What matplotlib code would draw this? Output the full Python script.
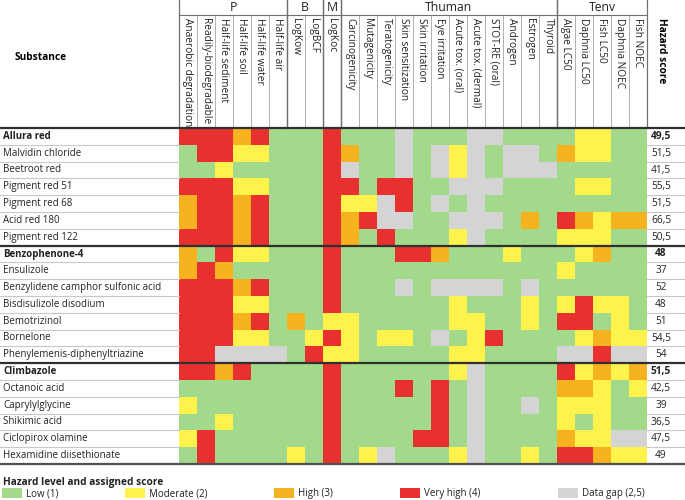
import matplotlib
matplotlib.use("Agg")
import matplotlib.pyplot as plt
import numpy as np
from matplotlib.colors import ListedColormap, BoundaryNorm
from matplotlib.patches import Rectangle

plt.rcParams["font.family"] = ["Open Sans", "DejaVu Sans"]

SUBSTANCES = [
    "Allura red", "Malvidin chloride", "Beetroot red", "Pigment red 51",
    "Pigment red 68", "Acid red 180", "Pigment red 122",
    "Benzophenone-4", "Ensulizole", "Benzylidene camphor sulfonic acid",
    "Bisdisulizole disodium", "Bemotrizinol", "Bornelone",
    "Phenylemenis-diphenyltriazine",
    "Climbazole", "Octanoic acid", "Caprylylglycine", "Shikimic acid",
    "Ciclopirox olamine", "Hexamidine diisethionate",
]
GROUP_HEADS = ["Allura red", "Benzophenone-4", "Climbazole"]

GROUPS = ["P", "B", "M", "Thuman", "Tenv"]
GROUP_SIZES = [6, 2, 1, 12, 5]
COLUMNS = [
    "Anaerobic degradation", "Readily-biodegradable", "Half-life sediment",
    "Half-life soil", "Half-life water", "Half-life air",
    "LogKow", "LogBCF",
    "LogKoc",
    "Carcinogenicity", "Mutagenicity", "Teratogenicity", "Skin sensitization",
    "Skin irritation", "Eye irritation", "Acute tox. (oral)",
    "Acute tox. (dermal)", "STOT-RE (oral)", "Androgen", "Estrogen", "Thyroid",
    "Algae LC50", "Daphnia LC50", "Fish LC50", "Daphnia NOEC", "Fish NOEC",
]

# G low, Y moderate, O high, R very high, X data gap
LEVELS = [
    "RRRORGGGRGGGX" + "GGGXXGGGGYYGG",
    "GRRYYGGGROGGX" + "GXYXGXXGOYYGG",
    "GGYGGGGGRXGGX" + "GXYXGXXXGGGGG",
    "RRRYYGGGRRGRR" + "GGXXXGGGGYYGG",
    "ORRORGGGRYYXR" + "GXGXGGGGGGGGG",
    "ORRORGGGRORXX" + "GGXXXGOGROYOO",
    "RRRORGGGROGRG" + "GGYXGGGGYYYGG",
    "OGRYYGGGRGGGR" + "ROGGGYGGGYOGG",
    "OROGGGGGRGGGG" + "GGGGGGGGYGGGG",
    "RRRORGGGRGGGX" + "GXXXXGXGGGGGG",
    "RRRYYGGGRGGGG" + "GGYGGGYGYRYYG",
    "RRRORGOGYYGGG" + "GGYYGGYGRRGYG",
    "RRRYYGGYRYGYY" + "GXGYRGGGGYOYY",
    "RRXXXXGRYYGGG" + "GGYYGGGGXXRXX",
    "RRORGGGGRGGGG" + "GGYXGGGGRYOYO",
    "GGGGGGGGRGGGR" + "GRGXGGGGOOYGY",
    "YGGGGGGGRGGGG" + "GRGXGGXGYYYGG",
    "GGYGGGGGRGGGG" + "GRGXGGGGYGYGG",
    "YRGGGGGGRGGGG" + "RRGXGGGGOYYXX",
    "GRGGGGYGRGYXG" + "GGYXGGYGRROYY",
]
SCORES = [49.5, 51.5, 41.5, 55.5, 51.5, 66.5, 50.5,
          48, 37, 52, 48, 51, 54.5, 54,
          51.5, 42.5, 39, 36.5, 47.5, 49]

LEVEL_CODES = ["G", "Y", "O", "R", "X"]
LEVEL_LABELS = ["Low (1)", "Moderate (2)", "High (3)", "Very high (4)", "Data gap (2,5)"]
LEVEL_COLORS = ["#a2d98b", "#fff24c", "#f7b21f", "#e8312f", "#d4d4d4"]

W, H = 685, 500
GRID_L, GRID_R, GRID_T, GRID_B = 179, 647, 128, 464
SCORE_X = 661
HEADER_Y = 15
FS = 7.3
FS_ROW = 7.0


def fmt_score(v):
    s = ("%.1f" % v).rstrip("0").rstrip(".")
    return s.replace(".", ",")


def main():
    fig = plt.figure(figsize=(W / 100, H / 100), dpi=100)

    # heatmap cells
    ax = fig.add_axes([GRID_L / W, 1 - GRID_B / H, (GRID_R - GRID_L) / W, (GRID_B - GRID_T) / H])
    grid = np.array([[LEVEL_CODES.index(c) for c in row] for row in LEVELS])
    cmap = ListedColormap(LEVEL_COLORS)
    norm = BoundaryNorm(np.arange(-0.5, len(LEVEL_CODES)), cmap.N)
    ax.pcolormesh(grid, cmap=cmap, norm=norm, edgecolors="none")
    ax.set_xlim(0, len(COLUMNS))
    ax.set_ylim(len(SUBSTANCES), 0)
    ax.axis("off")

    # overlay in pixel coords for text and rules
    ov = fig.add_axes([0, 0, 1, 1], zorder=5)
    ov.set_xlim(0, W)
    ov.set_ylim(H, 0)
    ov.axis("off")

    n = len(SUBSTANCES)
    rh = (GRID_B - GRID_T) / n
    cw = (GRID_R - GRID_L) / len(COLUMNS)

    # header
    ov.text(15, 58, "Substance", fontsize=FS, fontweight="bold", va="center", ha="left")
    ov.text(SCORE_X + 1, 18, "Hazard score", fontsize=FS, fontweight="bold",
            rotation=270, ha="center", va="top")
    for j, col in enumerate(COLUMNS):
        xc = GRID_L + (j + 0.5) * cw
        ov.text(xc, 18, col, fontsize=FS, rotation=270, ha="center", va="top", color="#222222")
        if j > 0:
            ov.plot([GRID_L + j * cw] * 2, [HEADER_Y, GRID_T], color="#b0b0b0", lw=0.7)
    start = 0
    for g, size in zip(GROUPS, GROUP_SIZES):
        x0 = GRID_L + start * cw
        x1 = GRID_L + (start + size) * cw
        ov.text((x0 + x1) / 2, 7.5, g, fontsize=FS + 1.5, ha="center", va="center", color="#222222")
        ov.plot([x0, x0], [0, GRID_T], color="#707070", lw=0.9)
        ov.plot([x1, x1], [0, GRID_T], color="#707070", lw=0.9)
        start += size
    ov.plot([GRID_L, GRID_R], [HEADER_Y, HEADER_Y], color="#707070", lw=0.8)

    # rows
    for i, (name, score) in enumerate(zip(SUBSTANCES, SCORES)):
        yc = GRID_T + (i + 0.5) * rh
        bold = name in GROUP_HEADS
        ov.text(3, yc, name, fontsize=FS_ROW, va="center", ha="left",
                fontweight="bold" if bold else "normal", color="#222222")
        ov.text(SCORE_X, yc, fmt_score(score), fontsize=FS, va="center", ha="center",
                fontweight="bold" if bold else "normal", color="#222222")
        y = GRID_T + i * rh
        if bold:
            ov.plot([0, W], [y, y], color="#303030", lw=1.6)
        else:
            ov.plot([0, GRID_L], [y, y], color="#c8c8c8", lw=0.8)
            ov.plot([GRID_R, W], [y, y], color="#c8c8c8", lw=0.8)
    ov.plot([0, W], [GRID_B, GRID_B], color="#505050", lw=1.6)

    # legend
    ov.text(3, 483, "Hazard level and assigned score", fontsize=FS,
            fontweight="bold", va="center", ha="left", color="#222222")
    legend_x = [2, 125, 274, 400, 558]
    for x, lab, c in zip(legend_x, LEVEL_LABELS, LEVEL_COLORS):
        ov.add_patch(Rectangle((x, 488), 20, 10, facecolor=c, edgecolor="none"))
        ov.text(x + 24, 493.5, lab, fontsize=FS_ROW, va="center", ha="left", color="#222222")

    fig.savefig("out.png", dpi=100)
    plt.close(fig)


if __name__ == "__main__":
    main()
